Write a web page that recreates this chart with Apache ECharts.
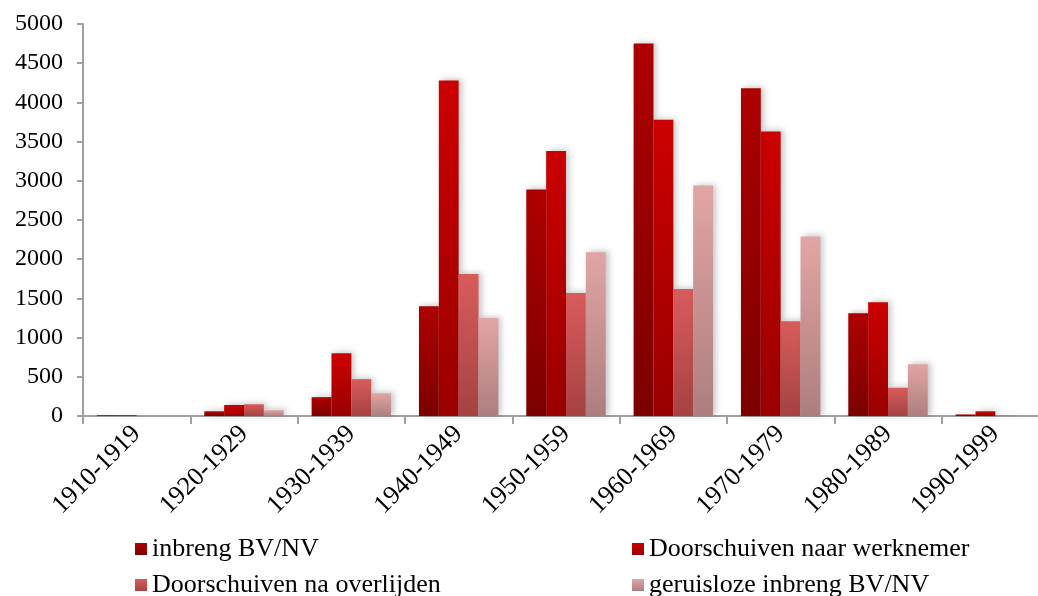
<!DOCTYPE html>
<html>
<head>
<meta charset="utf-8">
<script src="https://cdn.jsdelivr.net/npm/echarts@6/dist/echarts.min.js"></script>
<style>html,body{margin:0;padding:0;background:#fff;overflow:hidden;width:1038px;height:596px}#c{width:1052px;height:596px}</style>
</head>
<body>
<div id="c"></div>
<script>
const categories = ['1910-1919','1920-1929','1930-1939','1940-1949','1950-1959','1960-1969','1970-1979','1980-1989','1990-1999'];
const inbreng = [10, 60, 240, 1400, 2890, 4750, 4180, 1310, 20];
const doorWerknemer = [10, 140, 800, 4280, 3380, 3780, 3630, 1450, 60];
const doorOverlijden = [0, 150, 470, 1810, 1570, 1620, 1210, 360, 5];
const geruisloos = [0, 75, 290, 1250, 2090, 2940, 2290, 660, 0];
const seriesNames = ['inbreng BV/NV','Doorschuiven naar werknemer','Doorschuiven na overlijden','geruisloze inbreng BV/NV'];
const yTicks = {min: 0, max: 5000, interval: 500};

const FONT = '"Liberation Serif", "DejaVu Serif", serif';
function grad(top, bottom){
  return {type:'linear', x:0, y:0, x2:0, y2:1, colorStops:[{offset:0,color:top},{offset:1,color:bottom}]};
}
const colors = [grad('#ae0000','#7c0000'), grad('#cc0000','#9a0000'), grad('#d95c5c','#a54242'), grad('#e2a5a5','#ad7e7e')];
const dataSets = [inbreng, doorWerknemer, doorOverlijden, geruisloos];

const chart = echarts.init(document.getElementById('c'), null, {renderer:'canvas', width:1052, height:596});
const legendPos = [[135,536],[632,536],[135,572],[632,572]];
chart.setOption({
  animation:false,
  backgroundColor:'#fff',
  grid:{left:83, top:24, right:3, height:392, containLabel:false},
  legend: seriesNames.map((n,i)=>({
    data:[n], left:legendPos[i][0], top:legendPos[i][1], itemWidth:12, itemHeight:12, itemGap:5,
    icon:'rect', textStyle:{fontFamily:FONT, fontSize:26, color:'#000'}, selectedMode:false, padding:0
  })),
  xAxis:{
    type:'category', data:categories,
    axisLine:{lineStyle:{color:'#a0a0a0', width:2}},
    axisTick:{show:true, length:8, lineStyle:{color:'#a0a0a0', width:2}},
    axisLabel:{rotate:45, fontFamily:FONT, fontSize:26, color:'#000', margin:14, interval:0}
  },
  yAxis:{
    type:'value', min:yTicks.min, max:yTicks.max, interval:yTicks.interval,
    axisLine:{show:true, lineStyle:{color:'#a0a0a0', width:2}},
    axisTick:{show:true, length:6, lineStyle:{color:'#a0a0a0', width:2}},
    splitLine:{show:false},
    axisLabel:{fontFamily:FONT, fontSize:24, color:'#000', margin:20, formatter:v=>String(v)}
  },
  series: dataSets.map((d,i)=>({
    name:seriesNames[i], type:'bar', data:d, barGap:'0%', barCategoryGap:'26%',
    itemStyle:{color:colors[i], shadowColor:'rgba(0,0,0,0.22)', shadowBlur:6, shadowOffsetX:3, shadowOffsetY:-1}
  }))
});
</script>
</body>
</html>
